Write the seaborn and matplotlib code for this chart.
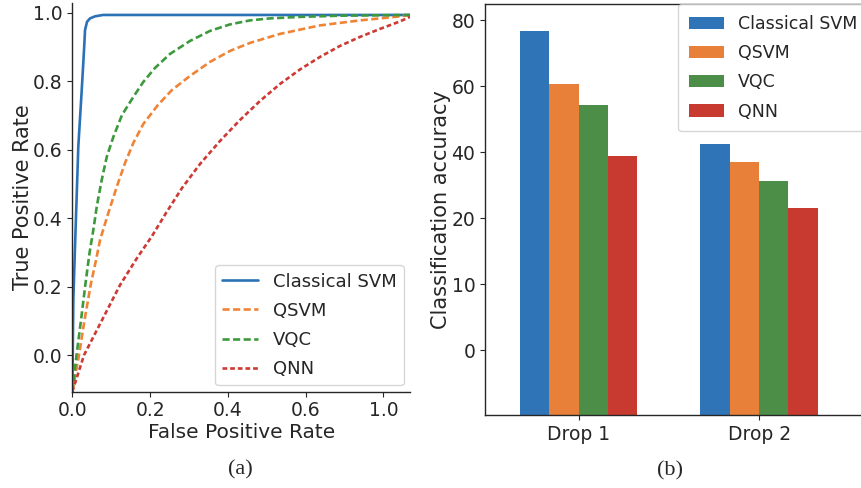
import matplotlib.pyplot as plt
import numpy as np
import pandas as pd
import seaborn as sns

sns.set_style("ticks")
plt.rcParams["font.family"] = ["DejaVu Sans"]
plt.rcParams["xtick.major.size"] = 3.5
plt.rcParams["ytick.major.size"] = 3.5
plt.rcParams["axes.linewidth"] = 1.0

MODELS = ["Classical SVM", "QSVM", "VQC", "QNN"]

# (a) ROC curves
FPR_SVM = [0.0, 0.0026, 0.0069, 0.0154, 0.0242, 0.0301, 0.0327, 0.0378,
           0.0455, 0.0584, 0.079, 1.137]
TPR_SVM = [-0.107, 0.161, 0.316, 0.609, 0.774, 0.891, 0.949, 0.973,
           0.983, 0.989, 0.993, 0.993]

FPR_QSVM = [0.0, 0.0172, 0.0314, 0.0481, 0.0610, 0.0713, 0.0926, 0.1142,
            0.1356, 0.1569, 0.1826, 0.2204, 0.2565, 0.3028, 0.3542, 0.4057,
            0.4571, 0.5343, 0.6743, 0.8801, 1.0859, 1.137]
TPR_QSVM = [-0.107, 0.0, 0.1022, 0.2103, 0.2775, 0.3360, 0.4148, 0.4908,
            0.5609, 0.6193, 0.6748, 0.7304, 0.7742, 0.8151, 0.8560, 0.8881,
            0.9115, 0.9378, 0.9626, 0.9772, 0.9889, 0.993]

FPR_VQC = [0.0, 0.0108, 0.0224, 0.0340, 0.0442, 0.0540, 0.0635, 0.0756,
           0.0885, 0.1055, 0.1278, 0.1569, 0.1826, 0.2127, 0.2513, 0.3028,
           0.3542, 0.4057, 0.4571, 0.5085, 0.5857, 0.7772, 1.137]
TPR_VQC = [-0.107, 0.0, 0.1022, 0.2103, 0.2980, 0.3652, 0.4382, 0.5112,
           0.5784, 0.6369, 0.7011, 0.7537, 0.7975, 0.8384, 0.8793, 0.9173,
           0.9465, 0.9655, 0.9772, 0.9830, 0.9874, 0.9909, 0.993]

FPR_QNN = [0.0, 0.0301, 0.0764, 0.1227, 0.1664, 0.2050, 0.2410, 0.2822,
           0.3285, 0.3799, 0.4314, 0.4828, 0.5343, 0.5857, 0.6743, 0.7772,
           0.8801, 0.9830, 1.0859, 1.137]
TPR_QNN = [-0.107, 0.0, 0.1022, 0.2045, 0.2834, 0.3476, 0.4148, 0.4879,
           0.5580, 0.6252, 0.6865, 0.7420, 0.7917, 0.8340, 0.8706, 0.9027,
           0.9290, 0.9524, 0.9743, 0.9874]

ROC_XTICKS = [0.0, 0.2, 0.4, 0.6, 1.0]
ROC_YTICKS = [0.0, 0.2, 0.4, 0.6, 0.8, 1.0]

# (b) classification accuracy per drop
DROPS = ["Drop 1", "Drop 2"]
ACC_SVM = [76.8, 42.5]
ACC_QSVM = [60.8, 37.1]
ACC_VQC = [54.4, 31.2]
ACC_QNN = [38.8, 23.1]
ACC_TICKS = [0, 10, 20, 40, 60, 80]

LINE_COLORS = ["#2a72b5", "#ef8436", "#3c9a3c", "#cc3a33"]
BAR_COLORS = ["#2e74b6", "#e8803a", "#4c8e48", "#c83a30"]


def piecewise(values, positions):
    """Échelle linéaire par morceaux (ticks équidistants)."""
    def fwd(v):
        return np.interp(v, values, positions)

    def inv(p):
        return np.interp(p, positions, values)

    return fwd, inv


roc = pd.concat([
    pd.DataFrame({"fpr": x, "tpr": y, "model": m})
    for m, x, y in zip(MODELS,
                       [FPR_SVM, FPR_QSVM, FPR_VQC, FPR_QNN],
                       [TPR_SVM, TPR_QSVM, TPR_VQC, TPR_QNN])
], ignore_index=True)

acc = pd.concat([
    pd.DataFrame({"drop": DROPS, "acc": vals, "model": m})
    for m, vals in zip(MODELS, [ACC_SVM, ACC_QSVM, ACC_VQC, ACC_QNN])
], ignore_index=True)

fig = plt.figure(figsize=(8.61, 4.88), dpi=100)
ax_roc = fig.add_axes([0.084, 0.1973, 0.3922, 0.7966])
ax_bar = fig.add_axes([0.5633, 0.1496, 0.4390, 0.8422])

# --- (a) ROC
sns.lineplot(
    data=roc, x="fpr", y="tpr", hue="model", style="model",
    hue_order=MODELS, style_order=MODELS, palette=LINE_COLORS,
    dashes={"Classical SVM": "", "QSVM": (2.7, 1.3), "VQC": (2.7, 1.3),
            "QNN": (1.8, 1.1)},
    estimator=None, sort=False, linewidth=1.9, ax=ax_roc,
)
fx, ix = piecewise([0.0, 0.2, 0.4, 0.6, 1.0, 1.4], [0, 1, 2, 3, 4, 5])
ax_roc.set_xscale("function", functions=(fx, ix))
ax_roc.set_xlim(0, 1.137)
ax_roc.set_ylim(-0.107, 1.028)
ax_roc.set_xticks(ROC_XTICKS, labels=[f"{t:.1f}" for t in ROC_XTICKS])
ax_roc.set_yticks(ROC_YTICKS, labels=[f"{t:.1f}" for t in ROC_YTICKS])
ax_roc.tick_params(labelsize=13.5)
ax_roc.set_xlabel("False Positive Rate", fontsize=14.5, labelpad=2)
ax_roc.set_ylabel("True Positive Rate", fontsize=15, labelpad=0)
sns.despine(ax=ax_roc)
sns.move_legend(ax_roc, "lower right", title=None, fontsize=13,
                borderaxespad=0.35, labelspacing=0.62, frameon=True)

# --- (b) barres
sns.barplot(
    data=acc, x="drop", y="acc", hue="model", order=DROPS,
    hue_order=MODELS, palette=BAR_COLORS, saturation=1, width=0.65,
    errorbar=None, linewidth=0, edgecolor="none", ax=ax_bar,
)
fy, iy = piecewise([-10, 0, 10, 20, 40, 60, 80, 100], [-1, 0, 1, 2, 3, 4, 5, 6])
ax_bar.set_yscale("function", functions=(fy, iy))
ax_bar.set_ylim(-9.86, 85.0)
ax_bar.set_xlim(-0.52, 1.576)
ax_bar.set_yticks(ACC_TICKS, labels=[str(t) for t in ACC_TICKS])
# les barres partent du bas de l'axe comme dans la figure d'origine
y0 = ax_bar.get_ylim()[0]
for bar in ax_bar.patches:
    top = bar.get_y() + bar.get_height()
    bar.set_y(y0)
    bar.set_height(top - y0)
ax_bar.tick_params(labelsize=13.5)
ax_bar.set_xlabel("")
ax_bar.set_ylabel("Classification accuracy", fontsize=15, labelpad=0.5)
sns.move_legend(ax_bar, "upper right", bbox_to_anchor=(1.013, 1), title=None,
                fontsize=12.5, borderaxespad=0, borderpad=0.62,
                labelspacing=0.65, frameon=True)

fig.text(240 / 861, 1 - 470 / 488, "(a)", ha="center", va="center",
         family="Liberation Serif", fontsize=16)
fig.text(670 / 861, 1 - 471 / 488, "(b)", ha="center", va="center",
         family="Liberation Serif", fontsize=16)

fig.savefig("out.png", dpi=100)
